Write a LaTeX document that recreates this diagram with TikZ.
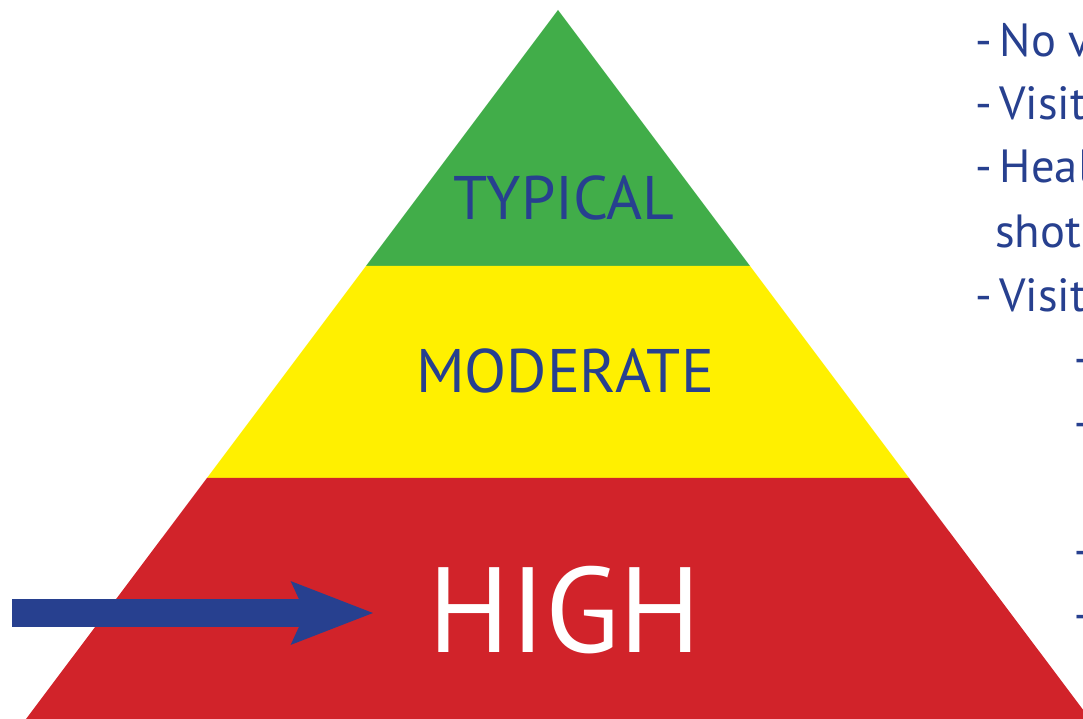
\documentclass[tikz,border=0pt]{standalone}
\usepackage{fontspec}
\setmainfont{PT Sans}
\usetikzlibrary{positioning,arrows.meta}
\definecolor{tiergreen}{RGB}{65,173,73}
\definecolor{tieryellow}{RGB}{255,240,0}
\definecolor{tierred}{RGB}{209,35,42}
\definecolor{inkblue}{RGB}{39,64,143}
\tikzstyle{tiername} = [text=inkblue, anchor=base, inner sep=0pt, font=\fontsize{35}{40}\selectfont]
\tikzstyle{bigname} = [text=white, anchor=base, inner sep=0pt, font=\fontsize{69}{80}\selectfont]
\tikzstyle{note} = [text=inkblue, anchor=base west, inner sep=0pt, font=\fontsize{26.5}{30}\selectfont]
\tikzstyle{pointer} = [draw=inkblue, line width=15.4pt, -{Stealth[length=46pt, width=34pt, inset=7pt]}]

\begin{document}
\begin{tikzpicture}[x=0.02cm, y=-0.02cm]
    \useasboundingbox (0,0) rectangle (1083,719);
    \clip (0,0) rectangle (1083,719);

    % pyramid tiers
    \fill [tiergreen] (558,10) -- (750,266) -- (366,266) -- cycle;
    \fill [tieryellow] (366,266) -- (750,266) -- (909,478) -- (207,478) -- cycle;
    \fill [tierred] (207,478) -- (909,478) -- (1090,719) -- (26,719) -- cycle;

    \node [tiername] (typical) at (564,220) {TYPICAL};
    \node [tiername] (moderate) at (565,393) {MODERATE};
    \node [bigname] (high) at (565,653) {HIGH};

    \coordinate (start) at (12,613);
    \draw [pointer, shorten >=31pt] (start) -- (start -| high.west);

    % notes, cut by the right edge
    \node [note] (n1) at (975,57) {-\hspace{4.5pt}No v};
    \node [note] (n2) at (975,120) {-\hspace{4pt}Visit};
    \node [note] (n3) at (975,183) {-\hspace{4.5pt}Heal};
    \node [note] (n4) at (995,248) {shot};
    \node [note] (n5) at (975,312) {-\hspace{4pt}Visit};
    \node [note] (s1) at (1071,375) {--};
    \node [note] (s2) at (1071,439) {--};
    \node [note] (s3) at (1071,567) {--};
    \node [note] (s4) at (1071,631) {--};
\end{tikzpicture}
\end{document}
